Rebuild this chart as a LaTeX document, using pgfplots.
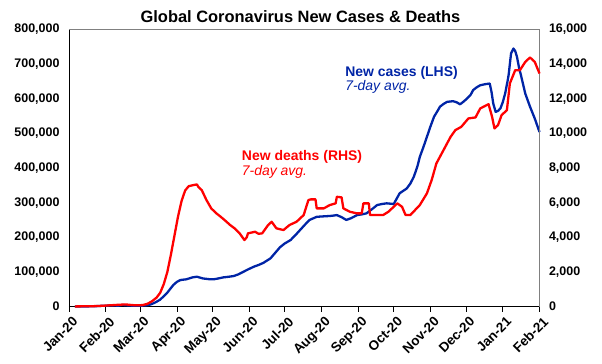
\documentclass[border=0pt]{standalone}
\usepackage{fontspec}
\setmainfont{Liberation Sans}
\usepackage{pgfplots}
\usepackage{pgfplotstable}
\pgfplotsset{compat=1.18}
\definecolor{cblue}{RGB}{0,36,166}
\definecolor{cred}{RGB}{255,0,0}
\definecolor{axgray}{RGB}{128,128,128}

\pgfplotstableread{
day cases
5 100
12 200
21 600
28 2000
35 2800
42 2500
45 4500
50 3000
56 2000
62 2500
66 3500
69 6000
73 12000
77 20000
80 30000
82.5 38000
85 49000
88 62000
91 71000
94 76500
99 78500
104 84000
108 86000
113 81000
118 79000
122 78500
126 81000
130 84000
135 86000
139 88000
143 93000
147 100000
151 107000
156 115000
160 120000
164 126000
170 139000
174 155000
178 171000
182 182000
187 192000
191 206000
195 221000
199 236000
203 250000
209 259000
213 260000
218 261000
222 262000
226 264000
230 258000
234 250000
238 255000
243 264000
247 266000
251 269000
256 282000
260 293000
264 296000
268 298000
274 296000
279 327000
285 341000
288 355000
291 375000
294 405000
296 432000
299 460000
302 490000
305 520000
308 548000
311 565000
313 577000
316 585000
319 591000
324 593000
327 590000
330 584000
333 592000
336 601000
339 612000
341 625000
344 633000
347 639000
351 642000
355 644000
356.5 620000
358 586000
360 562000
362 565000
364 572000
366 590000
368 615000
370 650000
371 670000
373 731000
375 745000
376.5 738000
378 721000
380 685000
381 673000
385 615000
389 577000
393 543000
397 504000
}\casestable

\pgfplotstableread{
day deaths
5 5
12 10
21 20
28 40
35 70
42 100
48 120
52 90
56 70
62 80
66 150
70 300
74 520
77 800
80 1300
83 2000
86 3000
89 4100
92 5200
95 6100
98 6700
101 6950
105 7013
108 7053
109 6915
112 6724
116 6147
120 5668
124 5400
128 5183
132 4950
136 4704
140 4500
144 4225
148 3838
150 4000
151 4225
157 4317
160 4200
163 4225
168 4704
171 4895
175 4514
181 4416
186 4704
192 4895
198 5281
202 6147
204 6188
208 6188
209 5668
215 5668
220 5859
225 5957
226 6338
230 6303
231.5 5668
237 5472
243 5380
247 5380
248.4 5957
253 5957
254 5281
260 5281
265 5281
269.5 5472
274 5760
277 5957
281 5760
284 5281
288 5281
292 5570
296 5859
302 6534
306 7302
310 8266
316 9033
322 9801
326 10188
331 10378
337 10863
343 10921
347 11440
354 11688
357 10955
359 10286
362 10476
365 11053
369.5 11342
372 12883
376.5 13651
380.5 13651
385 14130
389 14384
393 14130
397 13461
}\deathstable

\begin{document}
\begin{tikzpicture}
\begin{axis}[
  scale only axis, width=470.5bp, height=277bp,
  xmin=0, xmax=397, ymin=0, ymax=800000,
  axis x line*=bottom, axis y line*=left,
  axis line style={black, line width=0.8pt},
  xtick={0,31,60,91,121,152,182,213,244,274,305,335,366,397},
  xticklabels={Jan-20,Feb-20,Mar-20,Apr-20,May-20,Jun-20,Jul-20,Aug-20,Sep-20,Oct-20,Nov-20,Dec-20,Jan-21,Feb-21},
  xtick align=outside,
  major tick length=5bp,
  x tick style={black, line width=0.6pt},
  x tick label style={rotate=45, anchor=north east, font=\bfseries\fontsize{13.5}{15}\selectfont, inner sep=1pt, yshift=-4bp},
  ytick={0,100000,200000,300000,400000,500000,600000,700000,800000},
  yticklabels={0,{100,000},{200,000},{300,000},{400,000},{500,000},{600,000},{700,000},{800,000}},
  scaled y ticks=false,
  y tick style={draw=none},
  y tick label style={font=\bfseries\fontsize{12.5}{14}\selectfont, xshift=-6bp},
  clip=false,
]
\addplot[cblue, line width=2.3pt, line join=round] table[x=day, y=cases] {\casestable};
\node[anchor=base west, font=\bfseries\fontsize{14}{16}\selectfont, text=cblue, inner sep=0pt] at (axis cs:233,665000) {New cases (LHS)};
\node[anchor=base west, font=\itshape\fontsize{14}{16}\selectfont, text=cblue, inner sep=0pt] at (axis cs:233,624800) {7-day avg.};
\node[anchor=base west, font=\bfseries\fontsize{14}{16}\selectfont, text=cred, inner sep=0pt] at (axis cs:145.8,422800) {New deaths (RHS)};
\node[anchor=base west, font=\itshape\fontsize{14}{16}\selectfont, text=cred, inner sep=0pt] at (axis cs:145.8,379500) {7-day avg.};
\node[anchor=base, font=\bfseries\fontsize{16.5}{19}\selectfont, inner sep=0pt] at (rel axis cs:0.492,1) [yshift=7bp] {Global Coronavirus New Cases \& Deaths};
\end{axis}
\begin{axis}[
  scale only axis, width=470.5bp, height=277bp,
  xmin=0, xmax=397, ymin=0, ymax=16000,
  axis x line=none, axis y line*=right,
  axis line style={axgray, line width=1.2pt},
  ytick={0,2000,4000,6000,8000,10000,12000,14000,16000},
  yticklabels={0,{2,000},{4,000},{6,000},{8,000},{10,000},{12,000},{14,000},{16,000}},
  scaled y ticks=false,
  y tick style={draw=none},
  y tick label style={font=\bfseries\fontsize{12.5}{14}\selectfont, xshift=6bp},
  clip=false,
]
\draw[axgray, line width=1.2pt] (rel axis cs:0,1) -- (rel axis cs:1,1);
\addplot[cred, line width=2.3pt, line join=round] table[x=day, y=deaths] {\deathstable};
\end{axis}
\pgfresetboundingbox
\path[use as bounding box] (-69bp,-57.5bp) rectangle (533bp,306.5bp);
\end{tikzpicture}
\end{document}
